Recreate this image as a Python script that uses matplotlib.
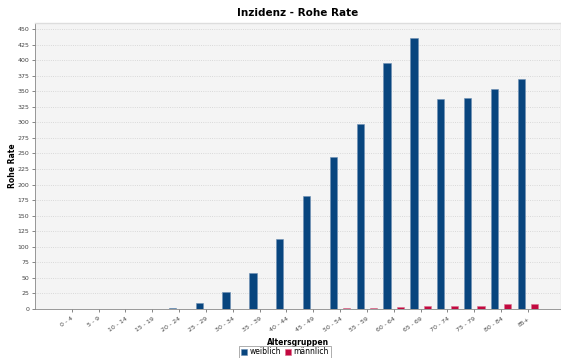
import numpy as np
import matplotlib.pyplot as plt

# Altersgruppen und Werte (Rohe Rate)
gruppen = ['0 - 4', '5 - 9', '10 - 14', '15 - 19', '20 - 24', '25 - 29', '30 - 34',
           '35 - 39', '40 - 44', '45 - 49', '50 - 54', '55 - 59', '60 - 64', '65 - 69',
           '70 - 74', '75 - 79', '80 - 84', '85+']
weiblich = [0, 0, 0, 0, 1, 9, 27, 58, 113, 181, 244, 297, 396, 436, 338, 339, 353, 370]
maennlich = [0, 0, 0, 0, 0, 0, 0, 0, 0, 0.5, 1, 1.5, 3, 4, 5, 5.5, 8, 8]
y_ticks = list(range(0, 451, 25))

blau = '#08457e'
rot = '#c2093f'

fig = plt.figure(figsize=(5.61, 3.58), dpi=100)
ax = fig.add_axes([0.0624, 0.137, 0.9376, 0.7992])
ax.set_facecolor('#f4f4f4')

x = np.arange(len(gruppen))
ax.bar(x - 0.25, weiblich, width=0.27, color=blau, edgecolor='#6d8fb3', linewidth=0.4, label='weiblich')
ax.bar(x + 0.25, maennlich, width=0.27, color=rot, edgecolor='#d9708f', linewidth=0.4, label='männlich')

ax.set_xlim(-1.37, len(gruppen) - 1 + 1.23)
ax.set_ylim(0, 460)
ax.set_yticks(y_ticks)
ax.tick_params(axis='y', labelsize=4.5, colors='#555555', length=2, width=0.5, pad=2)
ax.set_xticks(x)
ax.set_xticklabels(gruppen, rotation=35, ha='right', rotation_mode='anchor')
ax.tick_params(axis='x', labelsize=4.5, colors='#555555', length=2, width=0.5, pad=3)
for lbl in ax.get_xticklabels() + ax.get_yticklabels():
    lbl.set_color('#444444')

ax.grid(axis='y', color='#d0d0d0', linestyle=':', linewidth=0.6)
ax.set_axisbelow(True)
for s in ['top', 'right']:
    ax.spines[s].set_color('#dddddd')
    ax.spines[s].set_linewidth(1.0)
for s in ['left', 'bottom']:
    ax.spines[s].set_color('#888888')
    ax.spines[s].set_linewidth(0.6)

ax.set_ylabel('Rohe Rate', fontsize=5.5, fontweight='bold')
ax.yaxis.set_label_coords(-0.035, 0.5)
ax.set_xlabel('Altersgruppen', fontsize=5.5, fontweight='bold')
ax.xaxis.set_label_coords(0.5, -0.102)
fig.text(0.531, 0.963, 'Inzidenz - Rohe Rate', ha='center', va='center', fontsize=7.5, fontweight='bold')

leg = fig.legend(loc='center', bbox_to_anchor=(0.508, 0.017), ncol=2, fontsize=5.5,
                 frameon=True, fancybox=False, handlelength=0.8, handleheight=0.8,
                 handletextpad=0.3, columnspacing=0.6, borderpad=0.25)
leg.get_frame().set_edgecolor('#888888')
leg.get_frame().set_linewidth(0.6)

fig.savefig('out.png', dpi=100)
